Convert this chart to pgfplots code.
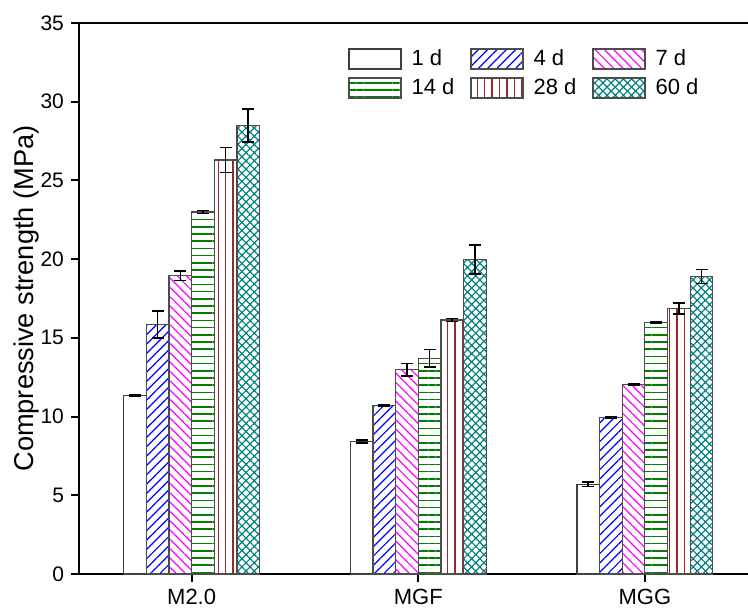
\documentclass[border=0pt]{standalone}
\usepackage{fontspec}
\setmainfont{Liberation Sans}
\usepackage{pgfplots}
\pgfplotsset{compat=1.18}
\usetikzlibrary{patterns.meta}
\definecolor{cblue}{RGB}{0,0,255}
\definecolor{cmag}{RGB}{255,0,255}
\definecolor{cgreen}{RGB}{0,128,0}
\definecolor{cred}{RGB}{153,40,40}
\definecolor{cteal}{RGB}{0,128,128}
\pgfplotsset{mylegend/.style={legend image code/.code={\draw[##1] (0pt,-5pt) rectangle (26pt,5pt);\path (29pt,0pt);}}}
\begin{document}
\begin{tikzpicture}[font=\fontsize{10.5}{12}\selectfont]
\useasboundingbox (0,0) rectangle (374pt,306pt);
\begin{axis}[
  at={(39.5pt,19pt)}, anchor=south west,
  scale only axis, width=334.5pt, height=275.5pt,
  ybar=0pt, bar width=0.1,
  xmin=-0.497, xmax=2.455, ymin=0, ymax=35,
  xtick={0,1,2}, xticklabels={M2.0,MGF,MGG},
  ytick={0,5,...,35},
  axis x line=box, axis y line=left,
  axis line style={-, line width=1pt},
  xtick pos=bottom, ytick pos=left,
  tick align=outside,
  major tick length=4pt,
  tick style={black, line width=1pt},
  /pgf/number format/assume math mode=true,
  x tick label style={font=\fontsize{11}{13}\selectfont},
  ylabel={Compressive strength (MPa)},
  ylabel style={font=\fontsize{13.6}{15}\selectfont, at={(axis description cs:-0.079,0.5)}, anchor=center},
  error bars/y dir=both, error bars/y explicit,
  error bars/error bar style={black, line width=0.8pt},
  error bars/error mark options={black, rotate=90, mark size=3pt, line width=0.8pt},
  legend columns=3,
  legend cell align=left,
  legend style={at={(0.393,0.967)}, anchor=north west, draw=none, fill=none,
    font=\fontsize{11}{13}\selectfont,
    /tikz/every even column/.append style={column sep=6pt}, row sep=1pt},
]
\addplot[mylegend, draw=black!75, fill=white, line width=0.6pt]
  coordinates {(0,11.35) +- (0,0.05) (1,8.42) +- (0,0.08) (2,5.70) +- (0,0.15)};
\addlegendentry{1 d}
\addplot[mylegend, draw=black!70, line width=0.6pt, pattern={Lines[angle=45,distance=3.3pt,line width=0.6pt]}, pattern color=cblue]
  coordinates {(0,15.85) +- (0,0.85) (1,10.70) +- (0,0.05) (2,9.95) +- (0,0.05)};
\addlegendentry{4 d}
\addplot[mylegend, draw=black!70, line width=0.6pt, pattern={Lines[angle=-45,distance=3.3pt,line width=0.6pt]}, pattern color=cmag]
  coordinates {(0,18.95) +- (0,0.30) (1,12.98) +- (0,0.40) (2,12.05) +- (0,0.05)};
\addlegendentry{7 d}
\addplot[mylegend, draw=black!70, line width=0.6pt, pattern={Lines[angle=0,distance=3.6pt,yshift=1.8pt,line width=0.8pt]}, pattern color=cgreen]
  coordinates {(0,23.00) +- (0,0.10) (1,13.70) +- (0,0.55) (2,16.00) +- (0,0.05)};
\addlegendentry{14 d}
\addplot[mylegend, draw=black!70, line width=0.6pt, pattern={Lines[angle=90,distance=3.7pt,xshift=1.85pt,line width=0.7pt]}, pattern color=cred]
  coordinates {(0,26.30) +- (0,0.80) (1,16.13) +- (0,0.10) (2,16.85) +- (0,0.35)};
\addlegendentry{28 d}
\addplot[mylegend, draw=black!70, line width=0.6pt, pattern={Hatch[angle=45,distance=2.9pt,line width=0.6pt]}, pattern color=cteal]
  coordinates {(0,28.50) +- (0,1.05) (1,19.96) +- (0,0.92) (2,18.90) +- (0,0.45)};
\addlegendentry{60 d}
\end{axis}
\end{tikzpicture}
\end{document}
